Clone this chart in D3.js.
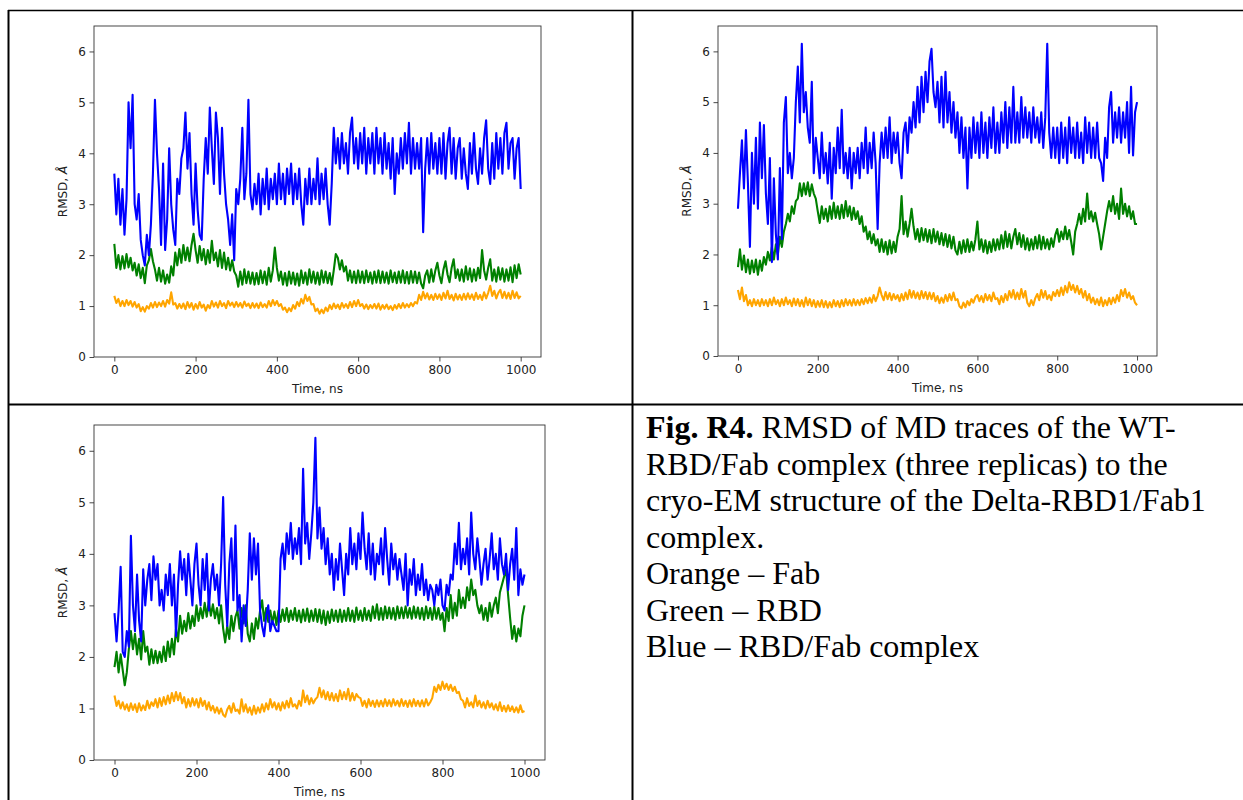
<!DOCTYPE html>
<html>
<head>
<meta charset="utf-8">
<script src="https://cdn.jsdelivr.net/npm/d3@7"></script>
<style>
    body { margin: 0; background: #fff; }
    .tick-text { font-family: "DejaVu Sans", sans-serif; font-size: 12px; fill: #222; }
    .caption { font-family: "Liberation Serif", "Times New Roman", serif; font-size: 32px; fill: #000; }
</style>
</head>
<body>
<svg id="fig" width="1243" height="800"></svg>
<script>
'use strict';

let p1Blue = [
    3.6, 2.8, 3.5, 2.6, 3.3, 2.4, 3.1, 5.0, 4.1, 5.15,
    3.0, 2.7, 3.2, 2.3, 2.0, 1.8, 2.4, 2.0, 2.6, 3.6,
    5.05, 4.0, 3.3, 2.2, 3.8, 2.1, 2.7, 4.1, 3.0, 2.5,
    2.2, 3.5, 3.2, 3.9, 4.1, 4.8, 3.7, 4.4, 3.2, 2.6,
    3.8, 2.9, 2.4, 2.3, 3.5, 4.3, 3.6, 4.9, 4.1, 3.4,
    4.8, 4.3, 3.2, 4.5, 3.6, 3.0, 2.7, 2.2, 2.8, 1.9,
    3.3, 3.0, 3.5, 4.5, 3.1, 3.6, 5.05, 3.2, 2.9, 3.4,
    3.0, 3.6, 2.8, 3.5, 3.0, 3.7, 2.9, 3.5, 3.1, 3.6,
    3.0, 3.8, 3.1, 3.6, 3.0, 3.7, 3.2, 3.8, 3.0, 3.6,
    3.1, 3.7, 3.0, 2.6, 3.5, 3.0, 3.7, 3.0, 3.5, 3.1,
    3.9, 3.0, 3.6, 3.1, 3.7, 3.0, 2.6, 3.4, 4.5, 3.8,
    4.3, 3.7, 4.4, 3.8, 4.2, 3.6, 4.4, 4.7, 3.8, 4.3,
    3.7, 4.4, 3.8, 4.5, 3.6, 4.3, 3.8, 4.4, 3.6, 4.5,
    3.8, 4.3, 3.6, 4.4, 3.7, 4.2, 3.5, 4.3, 3.2, 4.0,
    3.6, 4.3, 3.7, 4.4, 3.8, 4.6, 3.6, 4.3, 3.7, 4.2,
    3.7, 4.3, 2.45, 3.7, 4.3, 3.6, 4.4, 3.7, 4.2, 3.6,
    4.3, 3.6, 4.4, 3.5, 4.2, 4.5, 3.6, 4.3, 3.5, 4.1,
    4.3, 3.5, 4.1, 3.6, 3.3, 4.2, 3.6, 4.4, 3.7, 3.4,
    4.1, 3.6, 4.3, 4.65, 3.7, 3.4, 4.2, 3.5, 4.4, 3.7,
    4.3, 3.6, 4.4, 4.6, 3.7, 4.2, 4.3, 3.5, 4.1, 4.3,
    3.3
];
let p1Green = [
    2.22, 1.75, 2.0, 1.72, 1.98, 1.74, 2.02, 1.76, 1.95, 1.7,
    1.85, 1.6, 1.82, 1.55, 1.75, 1.45, 1.8, 1.9, 2.12, 1.88,
    1.72, 1.5, 1.75, 1.48, 1.7, 1.44, 1.62, 1.46, 1.78, 1.6,
    2.05, 1.8, 2.12, 1.85, 2.2, 1.9, 2.15, 1.88, 2.2, 2.42,
    2.1, 1.85, 2.18, 1.9, 2.12, 1.82, 2.1, 1.85, 2.28, 1.9,
    2.05, 1.78, 2.1, 1.75, 2.05, 1.72, 1.95, 1.7, 1.9, 1.68,
    1.6, 1.38, 1.68, 1.42, 1.72, 1.45, 1.68, 1.44, 1.66, 1.42,
    1.65, 1.43, 1.7, 1.45, 1.68, 1.42, 1.75, 1.48, 1.7, 2.15,
    1.75, 1.5, 1.68, 1.42, 1.65, 1.4, 1.68, 1.44, 1.66, 1.42,
    1.64, 1.4, 1.7, 1.45, 1.66, 1.42, 1.72, 1.46, 1.68, 1.44,
    1.66, 1.42, 1.7, 1.46, 1.68, 1.45, 1.65, 1.42, 1.7, 2.02,
    1.95, 1.72, 1.9, 1.68, 1.78, 1.5, 1.7, 1.46, 1.68, 1.45,
    1.7, 1.46, 1.68, 1.45, 1.7, 1.47, 1.66, 1.44, 1.68, 1.46,
    1.7, 1.45, 1.68, 1.46, 1.66, 1.44, 1.7, 1.47, 1.66, 1.45,
    1.68, 1.46, 1.7, 1.45, 1.67, 1.44, 1.69, 1.46, 1.68, 1.45,
    1.66, 1.44, 1.35, 1.6, 1.7, 1.46, 1.72, 1.48, 1.7, 1.85,
    1.6, 1.45, 1.72, 1.88, 1.62, 1.47, 1.75, 1.92, 1.55, 1.72,
    1.5, 1.72, 1.48, 1.78, 1.52, 1.74, 1.48, 1.72, 1.5, 1.75,
    1.55, 2.1, 1.7, 1.52, 1.75, 1.92, 1.5, 1.72, 1.48, 1.76,
    1.52, 1.74, 1.48, 1.72, 1.5, 1.76, 1.47, 1.8, 1.55, 1.82,
    1.62
];
let p1Orange = [
    1.2, 1.06, 1.14, 1.0, 1.1, 1.0, 1.12, 1.02, 1.1, 0.99,
    1.08, 0.97, 1.04, 0.9, 0.98, 0.89, 1.0, 0.95, 1.06, 0.97,
    1.08, 0.98, 1.07, 1.0, 1.1, 0.99, 1.12, 1.05, 1.27, 1.03,
    1.06, 0.95, 1.04, 0.96, 1.05, 0.94, 1.08, 0.97, 1.06, 0.93,
    1.04, 0.95, 1.08, 0.97, 1.03, 0.91, 1.02, 0.96, 1.1, 0.99,
    1.07, 0.97, 1.1, 1.0, 1.06, 0.96, 1.1, 1.01, 1.07, 0.98,
    1.08, 0.99, 1.06, 0.97, 1.09, 1.0, 1.05, 0.96, 1.06, 0.97,
    1.05, 0.96, 1.07, 0.98, 1.04, 0.97, 1.1, 1.0, 1.12, 1.02,
    1.1, 1.0, 1.04, 0.93, 0.97, 0.88, 0.96, 0.9, 1.02, 0.95,
    1.08, 1.0, 1.14, 1.05, 1.22, 1.1, 1.18, 1.03, 1.04, 0.9,
    0.95, 0.85, 0.93, 0.86, 0.97, 0.9, 1.02, 0.94, 1.05, 0.96,
    1.03, 0.94, 1.06, 0.97, 1.04, 0.96, 1.08, 0.98, 1.1, 1.0,
    1.12, 1.0, 1.04, 0.95, 1.03, 0.94, 1.02, 0.96, 1.04, 0.95,
    1.05, 0.93, 1.02, 0.95, 1.03, 0.94, 1.0, 0.92, 1.02, 0.95,
    1.04, 0.96, 1.06, 0.97, 1.04, 0.98, 1.06, 1.0, 1.08, 1.05,
    1.22, 1.12, 1.28, 1.15, 1.25, 1.13, 1.22, 1.12, 1.24, 1.14,
    1.23, 1.12, 1.26, 1.15, 1.3, 1.14, 1.22, 1.11, 1.24, 1.13,
    1.22, 1.12, 1.24, 1.13, 1.25, 1.14, 1.23, 1.12, 1.26, 1.14,
    1.22, 1.12, 1.27, 1.15, 1.26, 1.4, 1.2, 1.3, 1.15, 1.26,
    1.32, 1.16, 1.28, 1.15, 1.26, 1.14, 1.3, 1.16, 1.27, 1.15,
    1.2
];

let p2Blue = [
    2.9, 3.6, 4.25, 3.3, 4.45, 3.4, 2.15, 4.0, 3.0, 4.3,
    2.9, 4.6, 3.5, 4.55, 3.2, 2.6, 3.9, 1.85, 3.5, 2.4,
    1.9, 3.7, 2.3, 4.6, 5.1, 3.6, 4.0, 3.5, 3.9, 5.0,
    5.7, 4.6, 6.15, 4.8, 5.2, 4.5, 4.2, 5.4, 3.6, 4.3,
    3.9, 3.5, 4.4, 3.6, 4.0, 3.4, 4.2, 3.1, 4.1, 3.6,
    4.5, 3.7, 4.85, 3.6, 4.0, 3.5, 4.1, 3.3, 4.0, 3.6,
    4.1, 3.5, 4.2, 3.7, 4.5, 3.6, 4.2, 3.7, 4.4, 3.8,
    2.5, 3.8, 4.4, 3.9, 4.5, 3.9, 4.7, 3.8, 4.4, 4.0,
    4.4, 3.8, 3.5, 4.4, 4.6, 4.0, 4.7, 4.4, 5.0, 4.5,
    5.3, 4.6, 5.5, 4.8, 5.6, 5.0, 5.8, 6.05, 5.2, 4.9,
    5.4, 4.6, 5.5, 4.5, 5.6, 4.6, 5.2, 4.4, 5.0, 4.3,
    4.8, 4.0, 4.7, 3.9, 4.5, 3.3, 4.5, 3.9, 4.7, 4.0,
    4.6, 3.9, 4.8, 4.0, 4.6, 3.9, 4.7, 4.1, 4.9, 4.0,
    4.6, 4.0, 4.8, 4.2, 5.0, 4.1, 4.9, 4.2, 5.3, 4.2,
    4.8, 4.2, 5.1, 4.3, 4.9, 4.3, 4.8, 4.2, 4.9, 4.3,
    4.7, 4.2, 4.8, 4.1, 4.7, 6.15, 4.4, 3.9, 4.5, 3.9,
    4.5, 3.8, 4.6, 3.9, 4.5, 3.8, 4.7, 4.0, 4.5, 3.9,
    4.6, 3.9, 4.4, 3.8, 4.7, 4.0, 4.6, 3.9, 4.5, 3.9,
    4.6, 3.9, 3.8, 3.45, 4.3, 3.9, 4.9, 5.2, 4.2, 4.8,
    4.3, 4.9, 4.2, 4.8, 4.3, 5.0, 4.0, 5.3, 3.95, 4.8,
    5.0
];
let p2Green = [
    1.75, 2.1, 1.7, 1.98, 1.65, 1.9, 1.62, 1.88, 1.65, 1.9,
    1.6, 1.88, 1.68, 1.95, 1.8, 2.05, 1.88, 2.15, 1.9, 2.2,
    2.0, 2.35, 2.15, 2.45, 2.6, 2.8, 2.65, 2.95, 2.8, 3.05,
    3.1, 3.4, 3.15, 3.4, 3.18, 3.42, 3.15, 3.38, 3.2, 3.1,
    2.85, 2.62, 2.95, 2.7, 2.9, 2.65, 2.95, 2.7, 3.02, 2.72,
    2.95, 2.7, 2.98, 2.72, 3.05, 2.75, 2.95, 2.68, 2.92, 2.7,
    2.85, 2.6, 2.75, 2.45, 2.55, 2.3, 2.45, 2.22, 2.4, 2.18,
    2.3, 2.05, 2.3, 2.05, 2.25, 2.0, 2.28, 2.02, 2.25, 2.05,
    2.35, 2.5, 3.15, 2.4, 2.65, 2.35, 2.6, 2.9, 2.55, 2.3,
    2.5, 2.25, 2.52, 2.28, 2.5, 2.25, 2.48, 2.22, 2.5, 2.25,
    2.45, 2.2, 2.42, 2.18, 2.4, 2.15, 2.38, 2.12, 2.35, 2.08,
    2.0, 2.25, 2.02, 2.28, 2.05, 2.3, 2.05, 2.25, 2.08, 2.3,
    2.65, 2.1, 2.3, 2.05, 2.28, 2.02, 2.25, 2.05, 2.3, 2.08,
    2.3, 2.1, 2.38, 2.12, 2.45, 2.15, 2.4, 2.12, 2.35, 2.5,
    2.2, 2.42, 2.15, 2.38, 2.1, 2.32, 2.08, 2.3, 2.1, 2.35,
    2.12, 2.38, 2.1, 2.35, 2.12, 2.3, 2.1, 2.32, 2.15, 2.38,
    2.5, 2.25, 2.45, 2.3, 2.55, 2.3, 2.48, 2.25, 2.0, 2.45,
    2.6, 2.8, 2.6, 2.9, 2.65, 3.2, 2.7, 2.85, 2.65, 2.82,
    2.6, 2.4, 2.1, 2.35, 2.6, 2.85, 3.05, 2.85, 3.15, 2.8,
    3.0, 2.7, 3.3, 2.8, 3.0, 2.75, 2.95, 2.7, 2.85, 2.6,
    2.6
];
let p2Orange = [
    1.3, 1.12, 1.35, 1.08, 1.2, 1.0, 1.1, 0.98, 1.12, 1.0,
    1.1, 0.98, 1.12, 1.0, 1.1, 0.98, 1.12, 1.0, 1.15, 1.02,
    1.1, 0.98, 1.12, 1.0, 1.15, 1.02, 1.1, 0.98, 1.13, 1.0,
    1.12, 0.98, 1.1, 0.97, 1.15, 1.0, 1.12, 0.98, 1.1, 0.96,
    1.08, 0.97, 1.1, 0.96, 1.08, 0.95, 1.06, 0.96, 1.1, 0.98,
    1.08, 0.96, 1.1, 0.98, 1.12, 1.0, 1.1, 0.99, 1.12, 1.0,
    1.1, 1.0, 1.12, 1.02, 1.14, 1.04, 1.15, 1.05, 1.2, 1.08,
    1.18, 1.35, 1.2, 1.1, 1.26, 1.12, 1.24, 1.1, 1.22, 1.12,
    1.2, 1.08, 1.22, 1.1, 1.25, 1.12, 1.3, 1.15, 1.28, 1.14,
    1.25, 1.12, 1.28, 1.14, 1.26, 1.12, 1.25, 1.12, 1.24, 1.08,
    1.18, 1.04, 1.15, 1.05, 1.2, 1.08, 1.22, 1.1, 1.25, 1.1,
    1.12, 0.98, 0.94, 1.05, 0.96, 1.08, 1.0, 1.12, 1.05, 1.16,
    1.2, 1.08, 1.18, 1.06, 1.22, 1.1, 1.2, 1.08, 1.25, 1.12,
    1.14, 1.02, 1.18, 1.06, 1.22, 1.1, 1.28, 1.15, 1.3, 1.12,
    1.25, 1.12, 1.32, 1.15, 1.28, 1.05, 0.98, 1.1, 1.0, 1.14,
    1.22, 1.1, 1.3, 1.15, 1.28, 1.12, 1.2, 1.1, 1.26, 1.18,
    1.3, 1.18, 1.35, 1.2, 1.38, 1.25, 1.45, 1.3, 1.4, 1.25,
    1.38, 1.22, 1.32, 1.15, 1.28, 1.1, 1.22, 1.05, 1.15, 1.02,
    1.12, 1.0, 1.15, 0.98, 1.1, 1.0, 1.14, 1.02, 1.15, 1.05,
    1.2, 1.08, 1.3, 1.18, 1.32, 1.15, 1.25, 1.12, 1.18, 1.05,
    1.0
];

let p3Blue = [
    2.85, 2.3, 2.9, 3.75, 2.1, 2.0, 2.5, 2.2, 4.35, 3.0,
    2.5, 3.6, 2.7, 2.3, 3.7, 3.0, 3.5, 3.8, 3.1, 3.95,
    3.5, 3.8, 3.0, 3.3, 2.9, 3.6, 3.2, 3.8, 3.0, 3.6,
    2.4, 3.4, 4.05, 3.5, 3.9, 3.2, 4.0, 3.5, 3.0, 3.8,
    4.2, 3.4, 3.0, 3.9, 3.3, 4.0, 2.9, 3.5, 3.8, 3.3,
    3.6, 3.0, 3.8, 5.1, 3.4, 2.6, 3.8, 4.3, 3.1, 4.55,
    2.9, 3.2, 2.3, 3.0, 2.6, 3.3, 4.4, 3.5, 4.3, 3.6,
    4.2, 2.9, 2.6, 2.4, 2.8, 3.0, 2.5, 2.7, 2.6, 2.5,
    2.5, 3.9, 4.2, 3.7, 4.4, 4.0, 4.6, 3.9, 4.3, 4.0,
    4.5, 3.8, 5.65, 4.2, 4.6, 3.9, 4.4, 5.0, 6.25, 4.3,
    4.9, 4.1, 4.5, 3.8, 4.3, 3.6, 4.0, 3.3, 3.9, 3.5,
    4.2, 3.7, 3.2, 4.0, 3.6, 4.5, 3.8, 4.2, 3.7, 4.4,
    3.9, 4.8, 4.1, 3.7, 4.4, 3.6, 4.2, 3.5, 4.0, 3.8,
    4.3, 3.6, 4.5, 3.9, 3.4, 4.2, 3.7, 4.0, 3.5, 3.9,
    3.6, 3.3, 4.0, 3.0, 3.7, 3.4, 3.9, 3.2, 3.6, 3.3,
    3.8, 3.2, 3.5, 3.1, 3.4, 3.3, 3.0, 3.4, 3.2, 3.5,
    3.0, 2.9, 3.4, 3.2, 3.6, 3.5, 4.2, 3.8, 4.6, 3.7,
    4.1, 3.8, 4.3, 3.6, 4.8, 4.0, 3.7, 4.3, 3.9, 3.4,
    3.8, 4.1, 3.5, 3.9, 4.4, 3.7, 4.0, 3.5, 4.3, 3.8,
    3.6, 4.0, 3.3, 3.8, 4.1, 3.5, 4.5, 3.2, 3.7, 3.4,
    3.6
];
let p3Green = [
    1.8, 2.1, 1.7, 2.05, 1.75, 1.45, 1.7, 2.15, 2.5, 2.15,
    2.45, 2.05, 2.35, 1.95, 2.5, 2.1, 2.2, 1.85, 2.15, 1.88,
    2.12, 1.88, 2.1, 1.9, 2.2, 1.92, 2.3, 2.0, 2.35, 2.05,
    2.55, 2.3, 2.8, 2.45, 2.7, 2.5, 2.85, 2.55, 2.8, 2.6,
    3.0, 2.7, 2.95, 2.75, 3.05, 2.78, 3.08, 2.8, 3.02, 2.75,
    2.95, 2.65, 3.0, 2.55, 2.28, 2.6, 2.35, 2.8, 2.5, 2.78,
    2.9, 2.55, 2.95, 2.65, 3.0, 2.45, 2.3, 2.65, 2.35, 2.75,
    2.55, 2.9, 3.1, 2.7, 2.95, 2.68, 2.9, 2.65, 2.88, 2.62,
    2.9, 2.68, 2.92, 2.7, 2.95, 2.68, 2.9, 2.72, 2.95, 2.7,
    2.9, 2.67, 2.92, 2.7, 2.94, 2.68, 2.9, 2.7, 2.93, 2.68,
    2.92, 2.65, 2.9, 2.62, 2.88, 2.66, 2.92, 2.7, 2.9, 2.68,
    2.92, 2.68, 2.9, 2.7, 2.95, 2.7, 2.9, 2.68, 2.96, 2.72,
    2.9, 2.7, 2.95, 2.72, 2.9, 2.7, 2.98, 2.75, 3.02, 2.72,
    2.95, 2.72, 2.98, 2.75, 2.96, 2.74, 2.95, 2.72, 2.98, 2.75,
    2.96, 2.75, 2.98, 2.76, 2.95, 2.74, 2.98, 2.76, 2.96, 2.74,
    2.95, 2.72, 2.98, 2.75, 2.95, 2.72, 2.98, 2.74, 2.95, 2.72,
    2.85, 2.5, 2.95, 2.7, 3.2, 2.75, 3.05, 2.8, 3.3, 2.95,
    3.15, 2.95, 3.35, 3.1, 3.5, 3.2, 3.3, 3.0, 2.85, 3.0,
    2.72, 2.95, 2.7, 3.05, 2.78, 3.0, 3.15, 2.85, 3.25, 3.4,
    3.55, 3.7, 3.2, 2.75, 2.35, 2.6, 2.3, 2.55, 2.4, 2.8,
    3.0
];
let p3Orange = [
    1.25, 1.05, 1.15, 1.0, 1.12, 0.98, 1.08, 0.95, 1.1, 0.97,
    1.08, 0.93, 1.1, 0.96, 1.06, 0.97, 1.15, 1.0, 1.12, 1.05,
    1.18, 1.02, 1.2, 1.05, 1.22, 1.08, 1.25, 1.1, 1.3, 1.14,
    1.32, 1.16, 1.3, 1.1, 1.22, 1.02, 1.18, 1.04, 1.2, 1.06,
    1.18, 1.02, 1.2, 1.05, 1.15, 0.98, 1.12, 0.96, 1.05, 0.92,
    1.02, 0.9, 1.0, 0.88, 0.84, 0.98, 1.05, 0.92, 1.1, 0.95,
    0.98, 0.9, 1.18, 0.94, 1.08, 0.92, 1.02, 0.88, 1.05, 0.9,
    1.02, 0.92, 1.08, 0.94, 1.1, 0.98, 1.18, 1.02, 1.12, 0.98,
    1.1, 0.96, 1.12, 1.0, 1.15, 1.02, 1.2, 1.04, 1.08, 1.0,
    1.15, 1.05, 1.35, 1.12, 1.25, 1.08, 1.2, 1.1, 1.18, 1.22,
    1.4, 1.22, 1.35, 1.18, 1.32, 1.16, 1.3, 1.15, 1.28, 1.14,
    1.35, 1.18, 1.32, 1.18, 1.38, 1.15, 1.3, 1.16, 1.28, 1.22,
    1.2, 1.05, 1.15, 1.02, 1.18, 1.05, 1.15, 1.03, 1.16, 1.04,
    1.15, 1.04, 1.18, 1.05, 1.16, 1.04, 1.18, 1.06, 1.15, 1.04,
    1.18, 1.05, 1.15, 1.03, 1.16, 1.04, 1.18, 1.05, 1.15, 1.04,
    1.16, 1.04, 1.18, 1.06, 1.12, 1.2, 1.42, 1.32, 1.46, 1.36,
    1.52, 1.38, 1.48, 1.36, 1.46, 1.34, 1.42, 1.3, 1.32, 1.18,
    1.15, 1.02, 1.2, 1.05, 1.12, 1.02, 1.25, 1.05, 1.15, 1.02,
    1.12, 1.0, 1.15, 1.02, 1.1, 0.98, 1.08, 0.96, 1.12, 0.95,
    1.05, 0.94, 1.06, 0.95, 1.04, 0.93, 1.02, 0.92, 1.06, 0.93,
    0.95
];

let timesNs = d3.range(0, 1001, 5);
let xTicks = [0, 200, 400, 600, 800, 1000];
let yTicks = [0, 1, 2, 3, 4, 5, 6];
let xLabel = 'Time, ns';

let captionLines = [
    'RBD/Fab complex (three replicas) to the',
    'cryo-EM structure of the Delta-RBD1/Fab1',
    'complex.',
    'Orange \u2013 Fab',
    'Green \u2013 RBD',
    'Blue \u2013 RBD/Fab complex'
];

let colors = {orange: '#ffa500', green: '#008000', blue: '#0000ff'};

let svg = d3.select('#fig');

svg.append('rect')
    .attr('width', 1243)
    .attr('height', 800)
    .attr('fill', '#fff');

// table rules around the figure cells
let rules = svg.append('g')
    .attr('stroke', '#000')
    .attr('fill', 'none');

rules.append('line').attr('x1', 8).attr('x2', 1243).attr('y1', 10.5).attr('y2', 10.5).attr('stroke-width', 1.5);
rules.append('line').attr('x1', 8).attr('x2', 1243).attr('y1', 404.5).attr('y2', 404.5).attr('stroke-width', 2);
rules.append('line').attr('x1', 8.5).attr('x2', 8.5).attr('y1', 10).attr('y2', 800).attr('stroke-width', 2);
rules.append('line').attr('x1', 632.5).attr('x2', 632.5).attr('y1', 10).attr('y2', 800).attr('stroke-width', 2);

function drawPanel(box, orange, green, blue) {
    let x = d3.scaleLinear().domain([-50, 1050]).range([box.left, box.right]);
    let y = d3.scaleLinear().domain([0, 6.5]).range([box.bottom, box.top]);

    let g = svg.append('g');

    let line = function (values) {
        return d3.line()
            .x(function (d, i) { return x(timesNs[i]); })
            .y(function (d) { return y(d); })(values);
    };

    [[orange, colors.orange], [green, colors.green], [blue, colors.blue]].forEach(function (s) {
        g.append('path')
            .attr('d', line(s[0]))
            .attr('fill', 'none')
            .attr('stroke', s[1])
            .attr('stroke-width', 2.1)
            .attr('stroke-linejoin', 'round');
    });

    let xAxis = g.append('g')
        .attr('transform', 'translate(0,' + box.bottom + ')')
        .call(d3.axisBottom(x).tickValues(xTicks).tickSize(4.5).tickPadding(3.5).tickFormat(d3.format('d')));
    let yAxis = g.append('g')
        .attr('transform', 'translate(' + box.left + ',0)')
        .call(d3.axisLeft(y).tickValues(yTicks).tickSize(4.5).tickPadding(3.5).tickFormat(d3.format('d')));

    [xAxis, yAxis].forEach(function (a) {
        a.select('.domain').remove();
        a.selectAll('line').attr('stroke', '#333').attr('stroke-width', 0.9);
        a.selectAll('text').attr('class', 'tick-text');
        a.attr('font-family', null).attr('font-size', null);
    });

    g.append('rect')
        .attr('x', box.left)
        .attr('y', box.top)
        .attr('width', box.right - box.left)
        .attr('height', box.bottom - box.top)
        .attr('fill', 'none')
        .attr('stroke', '#333')
        .attr('stroke-width', 0.9);

    g.append('text')
        .attr('class', 'tick-text')
        .attr('x', (box.left + box.right) / 2)
        .attr('y', box.bottom + 36)
        .attr('text-anchor', 'middle')
        .text(xLabel);

    let yl = g.append('text')
        .attr('class', 'tick-text')
        .attr('text-anchor', 'middle')
        .attr('transform', 'translate(' + box.ylabelX + ',' + ((box.top + box.bottom) / 2) + ')rotate(-90)');
    yl.append('tspan').text('RMSD, ');
    yl.append('tspan').attr('font-style', 'italic').text('\u00c5');
}

drawPanel({left: 94, right: 541, top: 26, bottom: 357, ylabelX: 67}, p1Orange, p1Green, p1Blue);
drawPanel({left: 718, right: 1157, top: 26, bottom: 356, ylabelX: 691}, p2Orange, p2Green, p2Blue);
drawPanel({left: 94, right: 545, top: 425, bottom: 760, ylabelX: 67}, p3Orange, p3Green, p3Blue);

// caption in the fourth cell
let caption = svg.append('g').attr('class', 'caption');
let first = caption.append('text').attr('x', 646).attr('y', 438);
first.append('tspan').attr('font-weight', 'bold').text('Fig. R4.');
first.append('tspan').text(' RMSD of MD traces of the WT-');

caption.selectAll('text.rest')
    .data(captionLines)
    .join('text')
    .attr('class', 'rest')
    .attr('x', 646)
    .attr('y', function (d, i) { return 438 + 36.5 * (i + 1); })
    .text(function (d) { return d; });
</script>
</body>
</html>
